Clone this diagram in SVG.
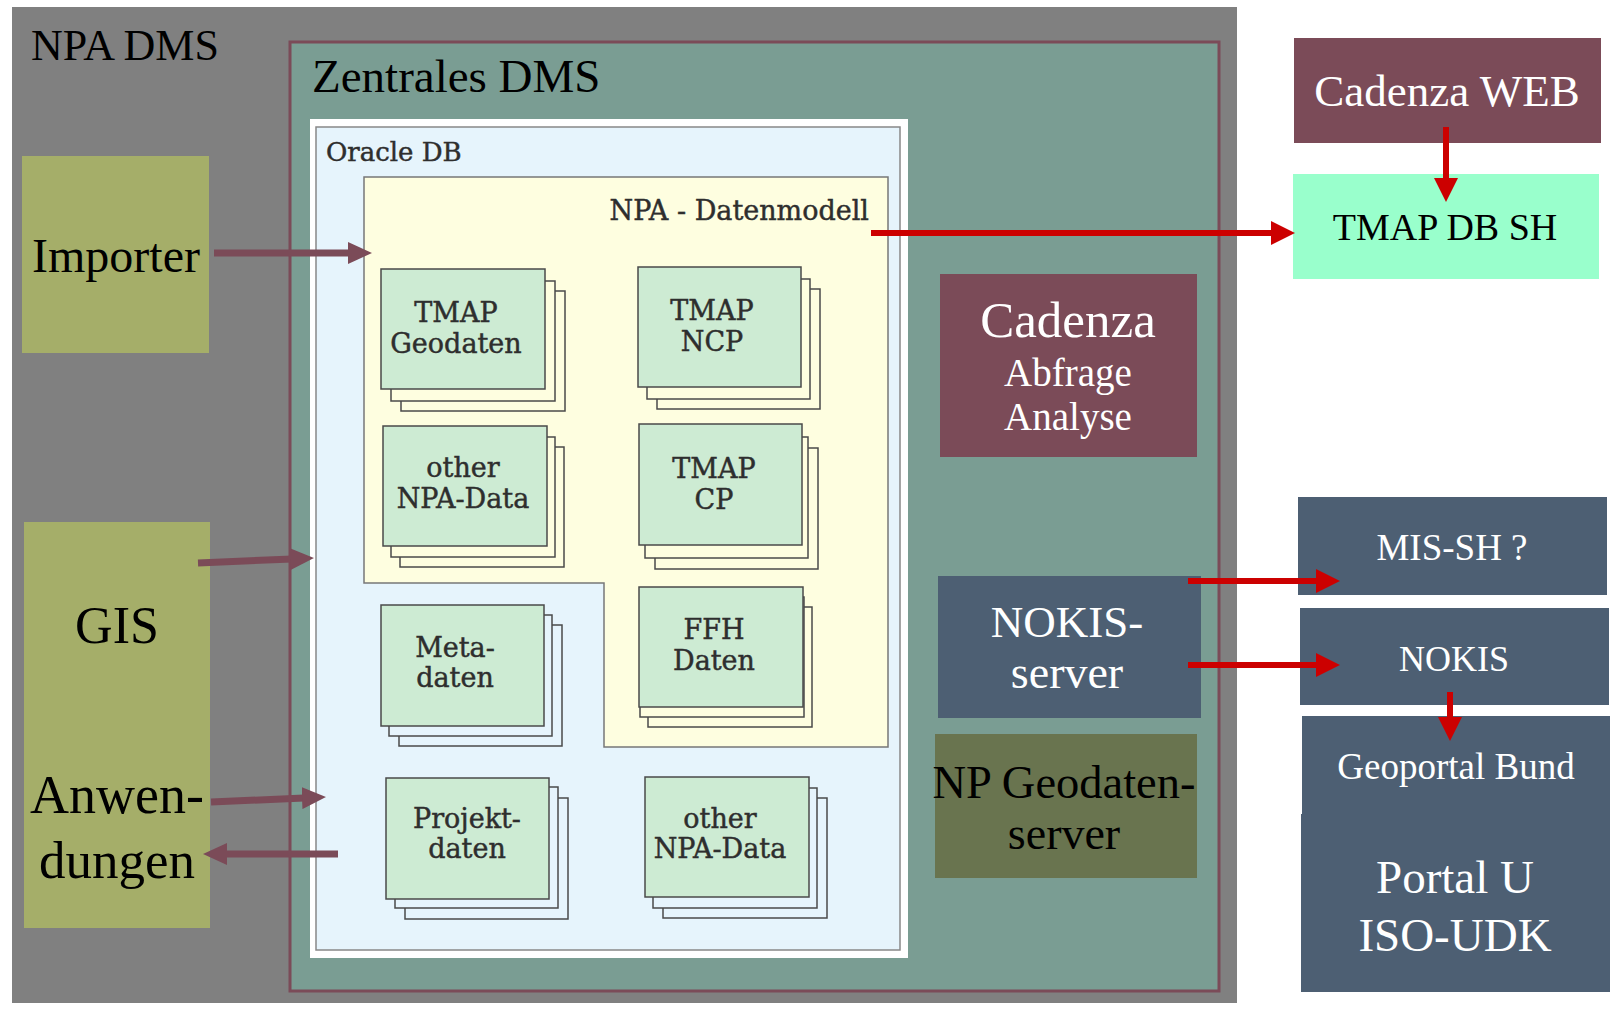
<svg xmlns="http://www.w3.org/2000/svg" width="1621" height="1009" viewBox="0 0 1621 1009">
<style>
.ser{font-family:"Liberation Serif","Times New Roman",serif}
.db{font-family:"DejaVu Serif",serif;fill:#2e2e2e;stroke:#2e2e2e;stroke-width:0.45}
.front{fill:#cdebd3;stroke:#4a4a4a;stroke-width:1.5}
.backY{fill:#fefee0;stroke:#4a4a4a;stroke-width:1.5}
.backB{fill:#e6f4fc;stroke:#4a4a4a;stroke-width:1.5}
.wt{fill:#ffffff}
.mar{stroke:#7b4b58;stroke-width:7;fill:none}
.red{stroke:#cc0000;stroke-width:6;fill:none}
</style>
<defs>
<marker id="mh" markerUnits="userSpaceOnUse" markerWidth="24" markerHeight="22" viewBox="0 0 24 22" refX="2" refY="11" orient="auto"><path d="M0,0 L24,11 L0,22 Z" fill="#7b4b58"/></marker>
<marker id="rh" markerUnits="userSpaceOnUse" markerWidth="24" markerHeight="24" viewBox="0 0 24 24" refX="2" refY="12" orient="auto"><path d="M0,0 L24,12 L0,24 Z" fill="#cc0000"/></marker>
</defs>
<rect width="1621" height="1009" fill="#ffffff"/>
<g id="npa-dms">
<rect x="12" y="7" width="1225" height="996" fill="#808080"/>
<text class="ser" x="31" y="60" font-size="44">NPA DMS</text>
</g>
<g id="zentrales-dms">
<rect x="290" y="42" width="929" height="949" fill="#7a9d93" stroke="#7b4b58" stroke-width="3"/>
<text class="ser" x="312" y="92" font-size="47">Zentrales DMS</text>
</g>
<g id="oracle-db">
<rect x="310" y="119" width="598" height="839" fill="#ffffff"/>
<rect x="316" y="127" width="584" height="823" fill="#e6f4fc" stroke="#888" stroke-width="1.5"/>
<text class="db" x="326" y="161" font-size="26">Oracle DB</text>
</g>
<g id="npa-datenmodell">
<path d="M364,177 H888 V747 H604 V583 H364 Z" fill="#fefee0" stroke="#777" stroke-width="1.5"/>
<text class="db" x="869" y="220" font-size="27" text-anchor="end">NPA - Datenmodell</text>
</g>
<g id="tmap-geodaten">
<rect class="backY" x="401" y="291" width="164" height="120"/>
<rect class="backY" x="391" y="281" width="164" height="120"/>
<rect class="front" x="381" y="269" width="164" height="120"/>
<text class="db" x="456" y="322" font-size="27" text-anchor="middle">TMAP</text>
<text class="db" x="456" y="353" font-size="27" text-anchor="middle">Geodaten</text>
</g>
<g id="tmap-ncp">
<rect class="backY" x="657" y="289" width="163" height="120"/>
<rect class="backY" x="647" y="279" width="163" height="120"/>
<rect class="front" x="638" y="267" width="163" height="120"/>
<text class="db" x="712" y="320" font-size="27" text-anchor="middle">TMAP</text>
<text class="db" x="712" y="351" font-size="27" text-anchor="middle">NCP</text>
</g>
<g id="other-npa-data-1">
<rect class="backY" x="400" y="447" width="164" height="120"/>
<rect class="backY" x="391" y="437" width="164" height="120"/>
<rect class="front" x="383" y="426" width="164" height="120"/>
<text class="db" x="463" y="477" font-size="27" text-anchor="middle">other</text>
<text class="db" x="463" y="508" font-size="27" text-anchor="middle">NPA-Data</text>
</g>
<g id="tmap-cp">
<rect class="backY" x="655" y="448" width="163" height="121"/>
<rect class="backY" x="645" y="437" width="163" height="121"/>
<rect class="front" x="639" y="424" width="163" height="121"/>
<text class="db" x="714" y="478" font-size="27" text-anchor="middle">TMAP</text>
<text class="db" x="714" y="509" font-size="27" text-anchor="middle">CP</text>
</g>
<g id="ffh-daten">
<rect class="backY" x="648" y="607" width="164" height="120"/>
<rect class="backY" x="640" y="597" width="164" height="120"/>
<rect class="front" x="639" y="587" width="164" height="120"/>
<text class="db" x="714" y="639" font-size="27" text-anchor="middle">FFH</text>
<text class="db" x="714" y="670" font-size="27" text-anchor="middle">Daten</text>
</g>
<g id="metadaten">
<rect class="backB" x="399" y="625" width="163" height="121"/>
<rect class="backB" x="389" y="615" width="163" height="121"/>
<rect class="front" x="381" y="605" width="163" height="121"/>
<text class="db" x="455" y="657" font-size="27" text-anchor="middle">Meta-</text>
<text class="db" x="455" y="687" font-size="27" text-anchor="middle">daten</text>
</g>
<g id="projektdaten">
<rect class="backB" x="405" y="798" width="163" height="121"/>
<rect class="backB" x="395" y="787" width="163" height="121"/>
<rect class="front" x="386" y="778" width="163" height="121"/>
<text class="db" x="467" y="828" font-size="27" text-anchor="middle">Projekt-</text>
<text class="db" x="467" y="858" font-size="27" text-anchor="middle">daten</text>
</g>
<g id="other-npa-data-2">
<rect class="backB" x="663" y="798" width="164" height="120"/>
<rect class="backB" x="653" y="788" width="164" height="120"/>
<rect class="front" x="645" y="777" width="164" height="120"/>
<text class="db" x="720" y="828" font-size="27" text-anchor="middle">other</text>
<text class="db" x="720" y="858" font-size="27" text-anchor="middle">NPA-Data</text>
</g>
<g id="importer">
<rect x="22" y="156" width="187" height="197" fill="#a5ae69"/>
<text class="ser" x="116" y="272" font-size="48" text-anchor="middle">Importer</text>
</g>
<g id="gis-anwendungen">
<rect x="24" y="522" width="186" height="406" fill="#a5ae69"/>
<text class="ser" x="117" y="643" font-size="52" text-anchor="middle">GIS</text>
<text class="ser" x="117" y="813" font-size="54" text-anchor="middle">Anwen-</text>
<text class="ser" x="117" y="878" font-size="53" text-anchor="middle">dungen</text>
</g>
<g id="cadenza">
<rect x="940" y="274" width="257" height="183" fill="#7b4b58"/>
<text class="ser wt" x="1068" y="337" font-size="51" text-anchor="middle">Cadenza</text>
<text class="ser wt" x="1068" y="386" font-size="39" text-anchor="middle">Abfrage</text>
<text class="ser wt" x="1068" y="430" font-size="39" text-anchor="middle">Analyse</text>
</g>
<g id="nokis-server">
<rect x="938" y="576" width="263" height="142" fill="#4d5f73"/>
<text class="ser wt" x="1067" y="637" font-size="45" text-anchor="middle">NOKIS-</text>
<text class="ser wt" x="1067" y="688" font-size="46" text-anchor="middle">server</text>
</g>
<g id="np-geodatenserver">
<rect x="935" y="734" width="262" height="144" fill="#69744f"/>
<text class="ser" x="1064" y="798" font-size="46.5" text-anchor="middle">NP Geodaten-</text>
<text class="ser" x="1064" y="849" font-size="46" text-anchor="middle">server</text>
</g>
<g id="cadenza-web">
<rect x="1294" y="38" width="307" height="105" fill="#7b4b58"/>
<text class="ser wt" x="1447" y="106" font-size="45" text-anchor="middle">Cadenza WEB</text>
</g>
<g id="tmap-db-sh">
<rect x="1293" y="174" width="306" height="105" fill="#99ffcc"/>
<text class="ser" x="1445" y="240" font-size="38" text-anchor="middle">TMAP DB SH</text>
</g>
<g id="mis-sh">
<rect x="1298" y="497" width="309" height="98" fill="#4d5f73"/>
<text class="ser wt" x="1452" y="560" font-size="37" text-anchor="middle">MIS-SH ?</text>
</g>
<g id="nokis">
<rect x="1300" y="608" width="309" height="97" fill="#4d5f73"/>
<text class="ser wt" x="1454" y="671" font-size="36" text-anchor="middle">NOKIS</text>
</g>
<g id="geoportal-bund">
<rect x="1302" y="716" width="308" height="100" fill="#4d5f73"/>
<text class="ser wt" x="1456" y="779" font-size="37" text-anchor="middle">Geoportal Bund</text>
</g>
<g id="portal-u">
<rect x="1301" y="814" width="309" height="178" fill="#4d5f73"/>
<text class="ser wt" x="1455" y="893" font-size="47" text-anchor="middle">Portal U</text>
<text class="ser wt" x="1455" y="951" font-size="47" text-anchor="middle">ISO-UDK</text>
</g>
<g id="connectors">
<line class="mar" x1="214" y1="253" x2="350" y2="253" marker-end="url(#mh)"/>
<line class="mar" x1="198" y1="563" x2="292" y2="559" marker-end="url(#mh)"/>
<line class="mar" x1="211" y1="802" x2="304" y2="798" marker-end="url(#mh)"/>
<line class="mar" x1="338" y1="854" x2="225" y2="854" marker-end="url(#mh)"/>
<line class="red" x1="871" y1="233" x2="1273" y2="233" marker-end="url(#rh)"/>
<line class="red" x1="1446" y1="127" x2="1446" y2="180" marker-end="url(#rh)"/>
<line class="red" x1="1188" y1="581" x2="1318" y2="581" marker-end="url(#rh)"/>
<line class="red" x1="1188" y1="665" x2="1318" y2="665" marker-end="url(#rh)"/>
<line class="red" x1="1450" y1="692" x2="1450" y2="719" marker-end="url(#rh)"/>
</g>
</svg>
